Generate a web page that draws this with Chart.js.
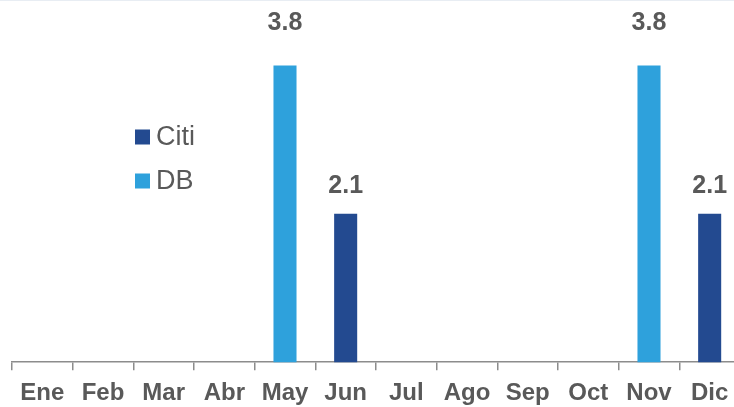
<!DOCTYPE html>
<html>
<head>
<meta charset="utf-8">
<script src="https://cdn.jsdelivr.net/npm/chart.js@4"></script>
<style>
  body { margin: 0; overflow: hidden; background: #fff; }
  .wrap { position: relative; width: 740px; height: 419px; }
  .topline { position: absolute; left: 0; top: 0; width: 734px; height: 1px; background: #e8edf3; }
</style>
</head>
<body>
<div class="wrap">
  <canvas class="chart"></canvas>
  <div class="topline"></div>
</div>
<script>
const months = ["Ene", "Feb", "Mar", "Abr", "May", "Jun", "Jul", "Ago", "Sep", "Oct", "Nov", "Dic"];
const citi = [null, null, null, null, null, 2.1, null, null, null, null, null, 2.1];
const db = [null, null, null, null, 3.8, null, null, null, null, null, 3.8, null];

const grey = "#595959";
const fontFamily = "Arial, 'Liberation Sans', sans-serif";

// numbers above bars, like excel data labels
const barLabels = {
  id: "barLabels",
  afterDatasetsDraw(chart) {
    const ctx = chart.ctx;
    const y = chart.scales.y;
    ctx.save();
    ctx.fillStyle = grey;
    ctx.font = "bold 25px " + fontFamily;
    ctx.textAlign = "center";
    ctx.textBaseline = "bottom";
    chart.data.datasets.forEach((ds, i) => {
      chart.getDatasetMeta(i).data.forEach((bar, j) => {
        const v = ds.data[j];
        if (v == null) return;
        ctx.fillText(v.toFixed(1), bar.x, y.getPixelForValue(v * 1.1) + 3);
      });
    });
    ctx.restore();
  },
};

// legend sits inside the plot, top left
const innerLegend = {
  id: "innerLegend",
  afterDraw(chart) {
    const ctx = chart.ctx;
    ctx.save();
    ctx.font = "27px " + fontFamily;
    ctx.textBaseline = "middle";
    chart.data.datasets.forEach((ds, i) => {
      const cy = 137 + i * 44;
      ctx.fillStyle = ds.backgroundColor;
      ctx.fillRect(135, cy - 7.5, 15, 15);
      ctx.fillStyle = grey;
      ctx.fillText(ds.label, 156, cy + 1);
    });
    ctx.restore();
  },
};

const canvas = document.getElementsByClassName("chart")[0];

new Chart(canvas, {
  type: "bar",
  data: {
    labels: months,
    datasets: [
      { label: "Citi", data: citi, backgroundColor: "#234a90" },
      { label: "DB", data: db, backgroundColor: "#2ea1dc" },
    ],
  },
  options: {
    responsive: true,
    maintainAspectRatio: false,
    animation: false,
    layout: { padding: { left: 12, right: 0, top: 0, bottom: 2 } },
    datasets: { bar: { barPercentage: 0.38, categoryPercentage: 1 } },
    plugins: {
      legend: { display: false },
      tooltip: { enabled: false },
    },
    scales: {
      x: {
        stacked: true,
        grid: {
          display: true,
          drawOnChartArea: false,
          drawTicks: true,
          tickLength: 8,
          color: "#8c8c8c",
          lineWidth: 1.5,
        },
        border: { display: true, color: "#8c8c8c", width: 1.5 },
        ticks: {
          color: grey,
          padding: 9,
          font: { family: fontFamily, size: 24, weight: "bold" },
        },
      },
      y: {
        stacked: true,
        display: false,
        min: 0.4,
        max: 4.55,
      },
    },
  },
  plugins: [barLabels, innerLegend],
});
</script>
</body>
</html>
